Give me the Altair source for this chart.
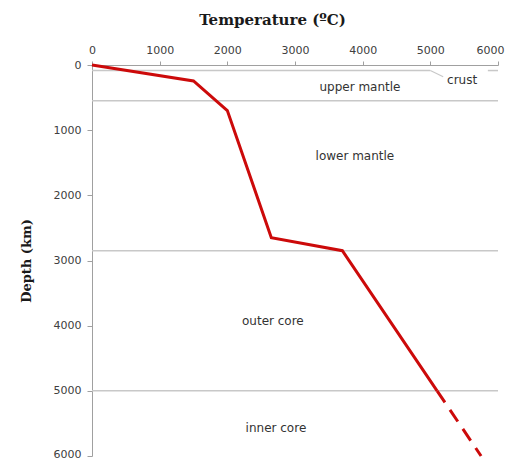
import altair as alt
import pandas as pd

# Temperature profile (solid part)
temps = [0, 1500, 2000, 2650, 3700, 5100]
depths = [0, 245, 700, 2650, 2850, 5000]
# extrapolated dashed part
temps_dash = [5100, 5750]
depths_dash = [5000, 6000]

# boundary lines
bound_x1 = [0, 0, 0, 0, 5850]
bound_x2 = [5000, 6000, 6000, 6000, 6000]
bound_depth = [85, 550, 2850, 5000, 85]

# crust leader line
leader_x = [5000, 5190]
leader_y = [85, 180]

# layer labels
layer_names = ["crust", "upper mantle", "lower mantle", "outer core", "inner core"]
layer_x = [5470, 3960, 3885, 2673, 2718]
layer_y = [230, 337, 1396, 3926, 5567]

tick_vals = [0, 1000, 2000, 3000, 4000, 5000, 6000]

xscale = alt.Scale(domain=[0, 6000], nice=False, zero=False)
yscale = alt.Scale(domain=[0, 6000], reverse=True, nice=False, zero=False)

xaxis = alt.Axis(orient="top", values=tick_vals, format="d", grid=False, title="Temperature (ºC)",
                 labelFont="DejaVu Sans", labelFontSize=11, labelColor="#404040",
                 titleFont="DejaVu Serif", titleFontSize=15, titleFontWeight="bold",
                 titleColor="#1a1a1a", titleX=180, titleY=-46, titleBaseline="middle",
                 labelPadding=6,
                 labelOffset={"condition": {"test": "datum.value == 6000", "value": -8}, "value": 0},
                 domainColor="#a0a0a0", tickColor="#a0a0a0", tickSize=4,
                 labelFlush=False, labelOverlap=False)
yaxis = alt.Axis(values=tick_vals, format="d", grid=False, title="Depth (km)",
                 labelFont="DejaVu Sans", labelFontSize=11, labelColor="#404040",
                 titleFont="DejaVu Serif", titleFontSize=13, titleFontWeight="bold",
                 titleColor="#1a1a1a", titlePadding=20, labelPadding=6,
                 labelOffset={"condition": {"test": "datum.value == 6000", "value": -2}, "value": 0},
                 domainColor="#a0a0a0", tickColor="#a0a0a0", tickSize=5,
                 labelFlush=False, labelOverlap=False)

bounds = pd.DataFrame({"x1": bound_x1, "x2": bound_x2, "d": bound_depth})
rules = alt.Chart(bounds).mark_rule(color="#c8c8c8", strokeWidth=1.5).encode(
    x=alt.X("x1:Q", scale=xscale, axis=xaxis),
    x2="x2:Q",
    y=alt.Y("d:Q", scale=yscale, axis=yaxis),
)

leader = alt.Chart(pd.DataFrame({"t": leader_x, "d": leader_y})).mark_line(
    color="#c8c8c8", strokeWidth=1.2).encode(
    x=alt.X("t:Q", scale=xscale), y=alt.Y("d:Q", scale=yscale))

solid = alt.Chart(pd.DataFrame({"t": temps, "d": depths, "o": list(range(len(temps)))})).mark_line(
    color="#cc0a0a", strokeWidth=3).encode(
    x=alt.X("t:Q", scale=xscale), y=alt.Y("d:Q", scale=yscale), order="o:Q")

dashed = alt.Chart(pd.DataFrame({"t": temps_dash, "d": depths_dash})).mark_line(
    color="#cc0a0a", strokeWidth=3, strokeDash=[14, 9]).encode(
    x=alt.X("t:Q", scale=xscale), y=alt.Y("d:Q", scale=yscale))

labels = alt.Chart(pd.DataFrame({"n": layer_names, "t": layer_x, "d": layer_y})).mark_text(
    font="DejaVu Sans", fontSize=12, color="#333333", align="center", baseline="middle").encode(
    x=alt.X("t:Q", scale=xscale), y=alt.Y("d:Q", scale=yscale), text="n:N")

chart = alt.layer(rules, leader, solid, dashed, labels).properties(
    width=406, height=391,
    autosize=alt.AutoSizeParams(type="none"),
    padding={"left": 84, "top": 57, "right": 9, "bottom": 10},
).configure(background="white").configure_view(stroke=None)

chart.save("out.html", embed_options={"renderer": "svg", "actions": False})
